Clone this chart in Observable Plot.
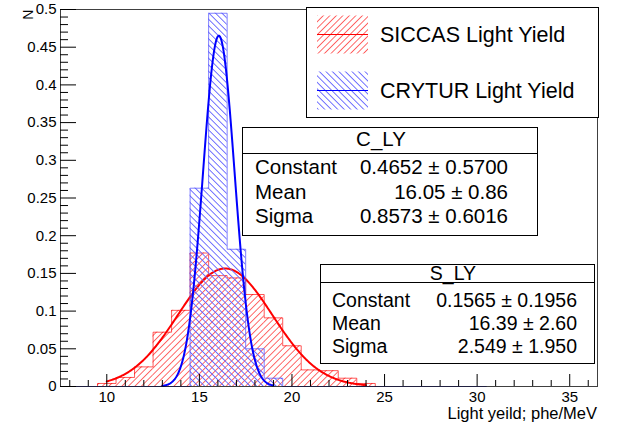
<!DOCTYPE html>
<html><head><meta charset="utf-8">
<script src="https://cdn.jsdelivr.net/npm/d3@7"></script>
<script src="https://cdn.jsdelivr.net/npm/@observablehq/plot@0.6"></script>
<style>
html,body{margin:0;padding:0;background:#fff;}
#chart{width:618px;height:423px;overflow:hidden;}
</style></head><body>
<svg width="1" height="1" style="position:absolute;left:-10px;top:-10px">
  <defs>
    <pattern id="patSiccas" patternUnits="userSpaceOnUse" width="4.6" height="10" patternTransform="rotate(45)">
      <rect x="0" y="0" width="0.9" height="10" fill="rgb(255,90,90)"/>
    </pattern>
    <pattern id="patCrytur" patternUnits="userSpaceOnUse" width="4.6" height="10" patternTransform="rotate(-45)">
      <rect x="0" y="0" width="0.9" height="10" fill="rgb(100,100,255)"/>
    </pattern>
  </defs>
</svg>
<div id="chart"></div>
<script>
// ---- data ----
const binWidth = 1;
const siccasLowEdges = [9.5,10.5,11.5,12.5,13.5,14.5,15.5,16.5,17.5,18.5,19.5,20.5,21.5,22.5,23.5];
const siccasValues   = [0.004,0.012,0.026,0.072,0.101,0.177,0.147,0.144,0.122,0.091,0.054,0.022,0.021,0.011,0.004];
const crytLowEdges   = [14.5,15.5,16.5,17.5,18.5];
const crytValues     = [0.263,0.495,0.182,0.050,0.011];
const crytRange      = [7.5, 30.5];

// Gaussian fit results shown in the stat boxes
const fitNames     = ["S_LY", "C_LY"];
const fitConstant  = [0.1565, 0.4652];
const fitConstErr  = [0.1956, 0.5700];
const fitMean      = [16.39, 16.05];
const fitMeanErr   = [2.60, 0.86];
const fitSigma     = [2.549, 0.8573];
const fitSigmaErr  = [1.950, 0.6016];
const fitRange     = [[10, 24], [13, 19]];
const fitDigits    = [[4, 2, 3], [4, 2, 4]];

const xMajor = [10, 15, 20, 25, 30, 35];
const xMinor = [8,9,11,12,13,14,16,17,18,19,21,22,23,24,26,27,28,29,31,32,33,34,36];
const yMajor = [0, 0.05, 0.1, 0.15, 0.2, 0.25, 0.3, 0.35, 0.4, 0.45, 0.5];
const yMinor = [0.01,0.02,0.03,0.04,0.06,0.07,0.08,0.09,0.11,0.12,0.13,0.14,0.16,0.17,0.18,0.19,
                0.21,0.22,0.23,0.24,0.26,0.27,0.28,0.29,0.31,0.32,0.33,0.34,0.36,0.37,0.38,0.39,
                0.41,0.42,0.43,0.44,0.46,0.47,0.48,0.49];
const legendLabels = ["SICCAS Light Yield", "CRYTUR Light Yield"];
const xTitle = "Light yeild; phe/MeV";
const yTitle = "N";

// ---- derived tables ----
const bins = (lows, vals) => lows.map((l, i) => ({x1: l, x2: l + binWidth, v: vals[i]}));
function stepPts(lows, vals, range) {
  const pts = [];
  if (range) pts.push({x: range[0], y: 0});
  pts.push({x: lows[0], y: 0});
  lows.forEach((l, i) => pts.push({x: l, y: vals[i]}));
  pts.push({x: lows[lows.length - 1] + binWidth, y: 0});
  if (range) pts.push({x: range[1], y: 0});
  return pts;
}
function gaus(i) {
  const [a, b] = fitRange[i], out = [];
  for (let k = 0; k <= 300; k++) {
    const x = a + (b - a) * k / 300;
    out.push({x, y: fitConstant[i] * Math.exp(-0.5 * ((x - fitMean[i]) / fitSigma[i]) ** 2)});
  }
  return out;
}
const redBins = bins(siccasLowEdges, siccasValues);
const blueBins = bins(crytLowEdges, crytValues);

const RED = "#ff0000", BLUE = "#0000ff";
const font = "'Liberation Sans', Arial, Helvetica, sans-serif";

const plot = Plot.plot({
  width: 618, height: 423,
  marginLeft: 60, marginRight: 21, marginTop: 9, marginBottom: 37,
  x: {domain: [7.5, 36.5]},
  y: {domain: [0, 0.5]},
  style: {fontFamily: font, background: "white", color: "black"},
  marks: [
    Plot.rect(redBins, {x1: "x1", x2: "x2", y1: 0, y2: "v", fill: "url(#patSiccas)"}),
    Plot.line(stepPts(siccasLowEdges, siccasValues), {x: "x", y: "y", curve: "step-after", stroke: RED, strokeOpacity: 0.65, strokeWidth: 1}),
    Plot.line(gaus(0), {x: "x", y: "y", stroke: RED, strokeWidth: 2}),
    Plot.rect(blueBins, {x1: "x1", x2: "x2", y1: 0, y2: "v", fill: "url(#patCrytur)"}),
    Plot.line(stepPts(crytLowEdges, crytValues, crytRange), {x: "x", y: "y", curve: "step-after", stroke: "#5555ff", strokeOpacity: 0.75, strokeWidth: 1}),
    Plot.line(gaus(1), {x: "x", y: "y", stroke: BLUE, strokeWidth: 2}),
    Plot.frame({stroke: "black", strokeOpacity: 0.75}),
    Plot.axisY({ticks: yMajor, tickSize: -16, tickPadding: 20, tickFormat: d => String(d), fontSize: 15, label: null}),
    Plot.axisY({ticks: yMinor, tickSize: -8, tickFormat: () => "", label: null}),
    Plot.axisX({ticks: xMajor, tickSize: -12, tickPadding: 17, tickFormat: d => String(d), fontSize: 15, label: null}),
    Plot.axisX({ticks: xMinor, tickSize: -6, tickFormat: () => "", label: null}),
    Plot.text([yTitle], {frameAnchor: "top-left", rotate: -90, textAnchor: "end", dx: -37, dy: 0, fontSize: 14})
  ]
});
document.getElementById("chart").appendChild(plot);

// ---- axis title, legend and fit boxes ----
const svg = d3.select(plot);
const g = svg.append("g").attr("font-family", font).attr("fill", "black").attr("text-anchor", "start");
g.append("text").attr("x", 597).attr("y", 419).attr("text-anchor", "end").attr("font-size", 16.5).text(xTitle);
g.append("rect").attr("x", 306.5).attr("y", 7.5).attr("width", 292).attr("height", 110)
  .attr("fill", "white").attr("stroke", "black");
[[34.5, "url(#patSiccas)", RED], [90.5, "url(#patCrytur)", BLUE]].forEach(([cy, fill, col], i) => {
  g.append("rect").attr("x", 317).attr("y", cy - 19).attr("width", 51).attr("height", 38).attr("fill", fill);
  g.append("line").attr("x1", 317).attr("x2", 368).attr("y1", cy).attr("y2", cy).attr("stroke", col).attr("stroke-width", 1);
  g.append("text").attr("x", 380).attr("y", cy).attr("dy", "0.35em").attr("font-size", 21.5).text(legendLabels[i]);
});
function statBox(i, box) {
  const {x, y, w, h, sep, titleX, titleY, rows, lx, rx, fs} = box;
  g.append("rect").attr("x", x + 0.5).attr("y", y + 0.5).attr("width", w).attr("height", h)
    .attr("fill", "white").attr("stroke", "black");
  g.append("line").attr("x1", x + 0.5).attr("x2", x + w + 0.5).attr("y1", sep + 0.5).attr("y2", sep + 0.5).attr("stroke", "black");
  g.append("text").attr("x", titleX).attr("y", titleY).attr("text-anchor", "middle").attr("font-size", fs).text(fitNames[i]);
  const names = ["Constant", "Mean", "Sigma"];
  const vals = [[fitConstant[i], fitConstErr[i]], [fitMean[i], fitMeanErr[i]], [fitSigma[i], fitSigmaErr[i]]];
  names.forEach((n, k) => {
    g.append("text").attr("x", lx).attr("y", rows[k]).attr("text-anchor", "start").attr("font-size", fs).text(n);
    const d = fitDigits[i][k];
    g.append("text").attr("x", rx).attr("y", rows[k]).attr("text-anchor", "end").attr("font-size", fs)
      .text(`${vals[k][0].toFixed(d)} \u00b1 ${vals[k][1].toFixed(d)}`);
  });
}
statBox(1, {x: 242, y: 127, w: 295, h: 108, sep: 153, titleX: 381, titleY: 146, rows: [174, 199, 223], lx: 255, rx: 508, fs: 20.5});
statBox(0, {x: 320, y: 264, w: 274, h: 99, sep: 282, titleX: 453, titleY: 280, rows: [307, 330, 353], lx: 332, rx: 577, fs: 19.5});
</script></body></html>
